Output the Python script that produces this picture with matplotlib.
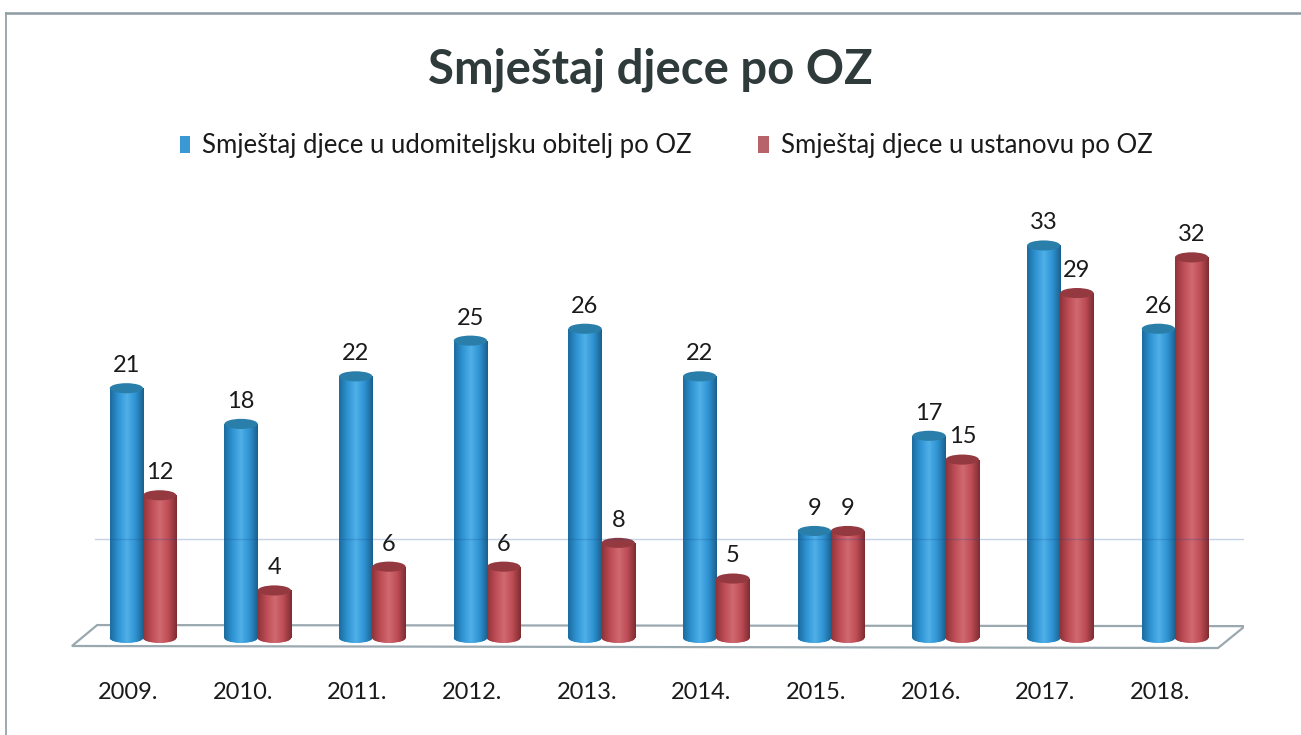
import numpy as np
import matplotlib
matplotlib.use("Agg")
import matplotlib.pyplot as plt
from matplotlib.patches import Ellipse, Polygon, Rectangle
from matplotlib.lines import Line2D
from matplotlib.colors import LinearSegmentedColormap

# ---- data ----
years = ["2009.", "2010.", "2011.", "2012.", "2013.", "2014.", "2015.", "2016.", "2017.", "2018."]
foster = [21, 18, 22, 25, 26, 22, 9, 17, 33, 26]
institution = [12, 4, 6, 6, 8, 5, 9, 15, 29, 32]
series_names = ["Smještaj djece u udomiteljsku obitelj po OZ", "Smještaj djece u ustanovu po OZ"]
title = "Smještaj djece po OZ"

FONT = ["Lato", "DejaVu Sans"]
plt.rcParams['font.family'] = FONT

W, H = 1301, 735
fig = plt.figure(figsize=(W / 100, H / 100), dpi=100)
fig.patch.set_facecolor("white")

# axes geometry (pixels)
x_left, x_right = 51.3, 1243.8
y_bottom, y_top = 652.3, 186.0
ax = fig.add_axes([x_left / W, 1 - y_bottom / H, (x_right - x_left) / W, (y_bottom - y_top) / H])
ax.axis("off")

bw = 0.29
x = np.arange(len(years))

blue_cmap = LinearSegmentedColormap.from_list("b", ["#1b6b9e", "#2f93d2", "#4fb0e8", "#2f93d2", "#1a5f8c"])
red_cmap = LinearSegmentedColormap.from_list("r", ["#8e3338", "#bd4c55", "#d06a70", "#bd4c55", "#7d2c31"])
blue_top = "#2a7eaa"
red_top = "#93393f"

grad = np.linspace(0, 1, 256).reshape(1, -1)

# floor
floor = Polygon([(-0.40, 1.09), (9.61, 1.0), (9.375, -0.84), (-0.62, -0.67)],
                closed=True, facecolor="white", edgecolor="#9aa8b0", lw=1.6, zorder=1)
ax.add_patch(floor)

for vals, off, cmap, topc, name, base in [
        (foster, -bw / 2, blue_cmap, blue_top, series_names[0], "#2f93d2"),
        (institution, bw / 2, red_cmap, red_top, series_names[1], "#bd4c55")]:
    bars = ax.bar(x + off, vals, width=bw, color=base, label=name, zorder=3, linewidth=0)
    for b in bars:
        x0 = b.get_x()
        w = b.get_width()
        h = b.get_height()
        cx = x0 + w / 2
        im = ax.imshow(grad, extent=[x0, x0 + w, -0.5, h], cmap=cmap, aspect="auto", zorder=3.5)
        im.set_clip_path(b)
        bot = Ellipse((cx, 0), w, 0.8, facecolor=base, edgecolor="none", zorder=3.2)
        ax.add_patch(bot)
        im2 = ax.imshow(grad, extent=[x0, x0 + w, -0.5, 0.5], cmap=cmap, aspect="auto", zorder=3.3)
        im2.set_clip_path(bot)
        top = Ellipse((cx, h), w, 0.85, facecolor=topc, edgecolor="none", zorder=4)
        ax.add_patch(top)
        ax.text(cx, h + 1.9, f"{int(h)}", ha="center", va="center", fontsize=17, color="#1a1a1a", zorder=6)

# faint gridline
ax.plot([-0.42, 9.6], [8.3, 8.3], color="#1f4f9a", lw=1.0, alpha=0.25, zorder=5)

# category labels
for i, lab in enumerate(years):
    ax.text(i - 0.13, -4.54, lab, ha="center", va="center", fontsize=17, color="#1a1a1a")

ax.set_xlim(-0.8, 9.6)
ax.set_ylim(-1.2, 38)

# title
fig.text(0.5, 1 - 70 / H, title, ha="center", va="center", fontsize=34, fontweight="bold", color="#2f3a3a")

# legend
handles = [Rectangle((0, 0), 1, 1, facecolor="#3a98d4"), Rectangle((0, 0), 1, 1, facecolor="#b8636a")]
fig.legend(handles, series_names, loc="center", bbox_to_anchor=(666 / W, 1 - 146 / H), ncol=2,
           frameon=False, fontsize=18.5, handlelength=0.42, handleheight=0.6, handletextpad=0.45,
           columnspacing=2.6, labelcolor="#1a1a1a")

# frame lines
fig.add_artist(Line2D([6 / W, 1], [1 - 13 / H, 1 - 13 / H], color="#8d9ba2", lw=1.8))
fig.add_artist(Line2D([6 / W, 6 / W], [0, 1 - 13 / H], color="#8d9ba2", lw=1.2))

fig.savefig("out.png", dpi=100)
